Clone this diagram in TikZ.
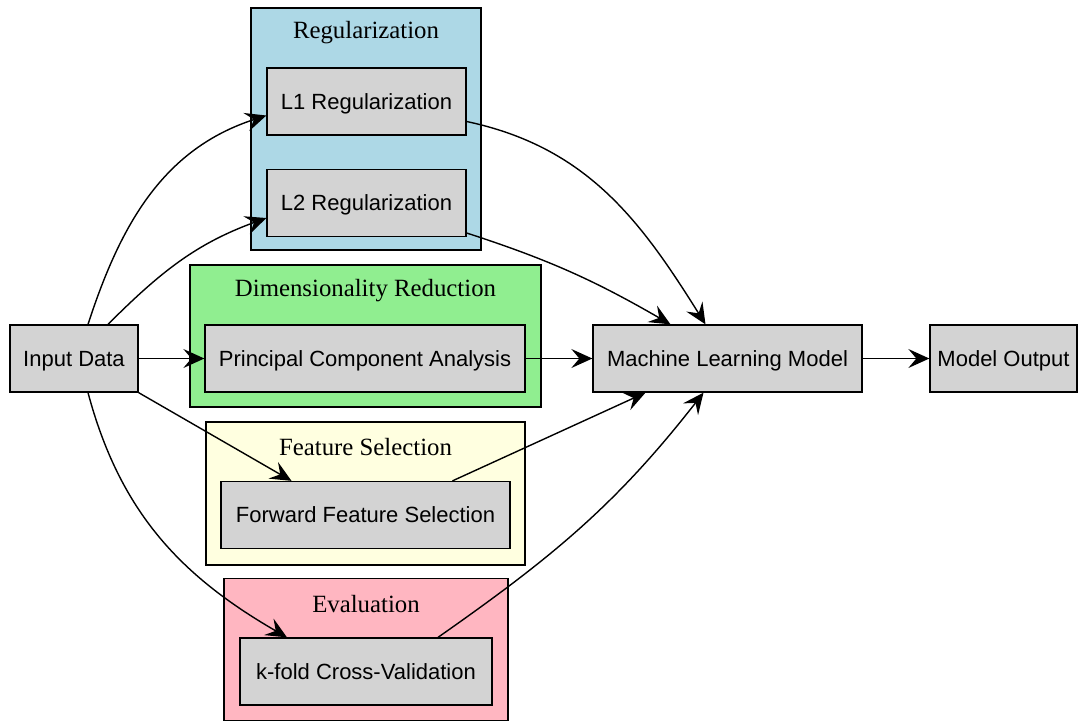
\documentclass[tikz,border=0pt]{standalone}
\usepackage{fontspec}
\setmainfont{Liberation Serif}
\newfontfamily\arialfont{Liberation Sans}
\usetikzlibrary{arrows.meta}
\definecolor{boxgray}{HTML}{D3D3D3}
\definecolor{clblue}{HTML}{ADD8E6}
\definecolor{clgreen}{HTML}{90EE90}
\definecolor{clyellow}{HTML}{FFFFE0}
\definecolor{clpink}{HTML}{FFB6C1}
\tikzset{
  x=1pt, y=1pt,
  proc/.style={draw=black, line width=1.3pt, fill=boxgray, inner sep=0pt,
    minimum height=67pt, text depth=0pt, font=\arialfont\fontsize{22}{26}\selectfont},
  cluster/.style={draw=black, line width=1.3pt, inner sep=0pt},
  cltitle/.style={inner sep=0pt, font=\fontsize{24.8}{28}\selectfont},
  edge/.style={line width=1.4pt, -{Stealth[length=21pt, width=19pt, inset=8pt]}},
}
\begin{document}
\begin{tikzpicture}
\useasboundingbox (0,0) rectangle (1078,-721);
% clusters
\node[cluster, fill=clblue, minimum width=230pt, minimum height=242pt] (creg) at (366,-129) {};
\node[cltitle] (treg) at (366,-33) {Regularization};
\node[cluster, fill=clgreen, minimum width=351pt, minimum height=142pt] (cdim) at (365.5,-336) {};
\node[cltitle] (tdim) at (365.5,-291) {Dimensionality Reduction};
\node[cluster, fill=clyellow, minimum width=319pt, minimum height=143pt] (cfs) at (365.5,-493.5) {};
\node[cltitle] (tfs) at (365.5,-447) {Feature Selection};
\node[cluster, fill=clpink, minimum width=284pt, minimum height=142pt] (cev) at (366,-649.5) {};
\node[cltitle] (tev) at (366,-604) {Evaluation};
% nodes
\node[proc, minimum width=128pt] (in) at (74,-358.5) {Input Data};
\node[proc, minimum width=199pt] (l1) at (366.5,-101.5) {L1 Regularization};
\node[proc, minimum width=199pt] (l2) at (366.5,-203) {L2 Regularization};
\node[proc, minimum width=320pt] (pca) at (365,-358.5) {Principal Component Analysis};
\node[proc, minimum width=289pt] (ffs) at (365.5,-515) {Forward Feature Selection};
\node[proc, minimum width=252pt] (kf) at (366,-671.5) {k-fold Cross-Validation};
\node[proc, minimum width=269pt] (ml) at (727.5,-358.5) {Machine Learning Model};
\node[proc, minimum width=147pt] (out) at (1003.5,-358.5) {Model Output};
% edges
\draw[edge] ([xshift=14pt]in.north) to[out=72, in=198] ([yshift=-14pt]l1.west);
\draw[edge] ([xshift=34pt]in.north) to[out=45, in=200] ([yshift=-15pt]l2.west);
\draw[edge] (in.east) -- (pca.west);
\draw[edge] (in.south east) -- ([xshift=-74pt]ffs.north);
\draw[edge] ([xshift=14pt]in.south) to[out=-75, in=150] ([xshift=-79pt]kf.north);
\draw[edge] ([yshift=-20pt]l1.east) to[out=-12, in=122] ([xshift=-22pt]ml.north);
\draw[edge] ([yshift=-30pt]l2.east) to[out=-18, in=150] ([xshift=-57pt]ml.north);
\draw[edge] (pca.east) -- (ml.west);
\draw[edge] ([xshift=87pt]ffs.north) -- ([xshift=-82pt]ml.south);
\draw[edge] ([xshift=72pt]kf.north) to[out=35, in=-128] ([xshift=-24pt]ml.south);
\draw[edge] (ml.east) -- (out.west);
\end{tikzpicture}
\end{document}
